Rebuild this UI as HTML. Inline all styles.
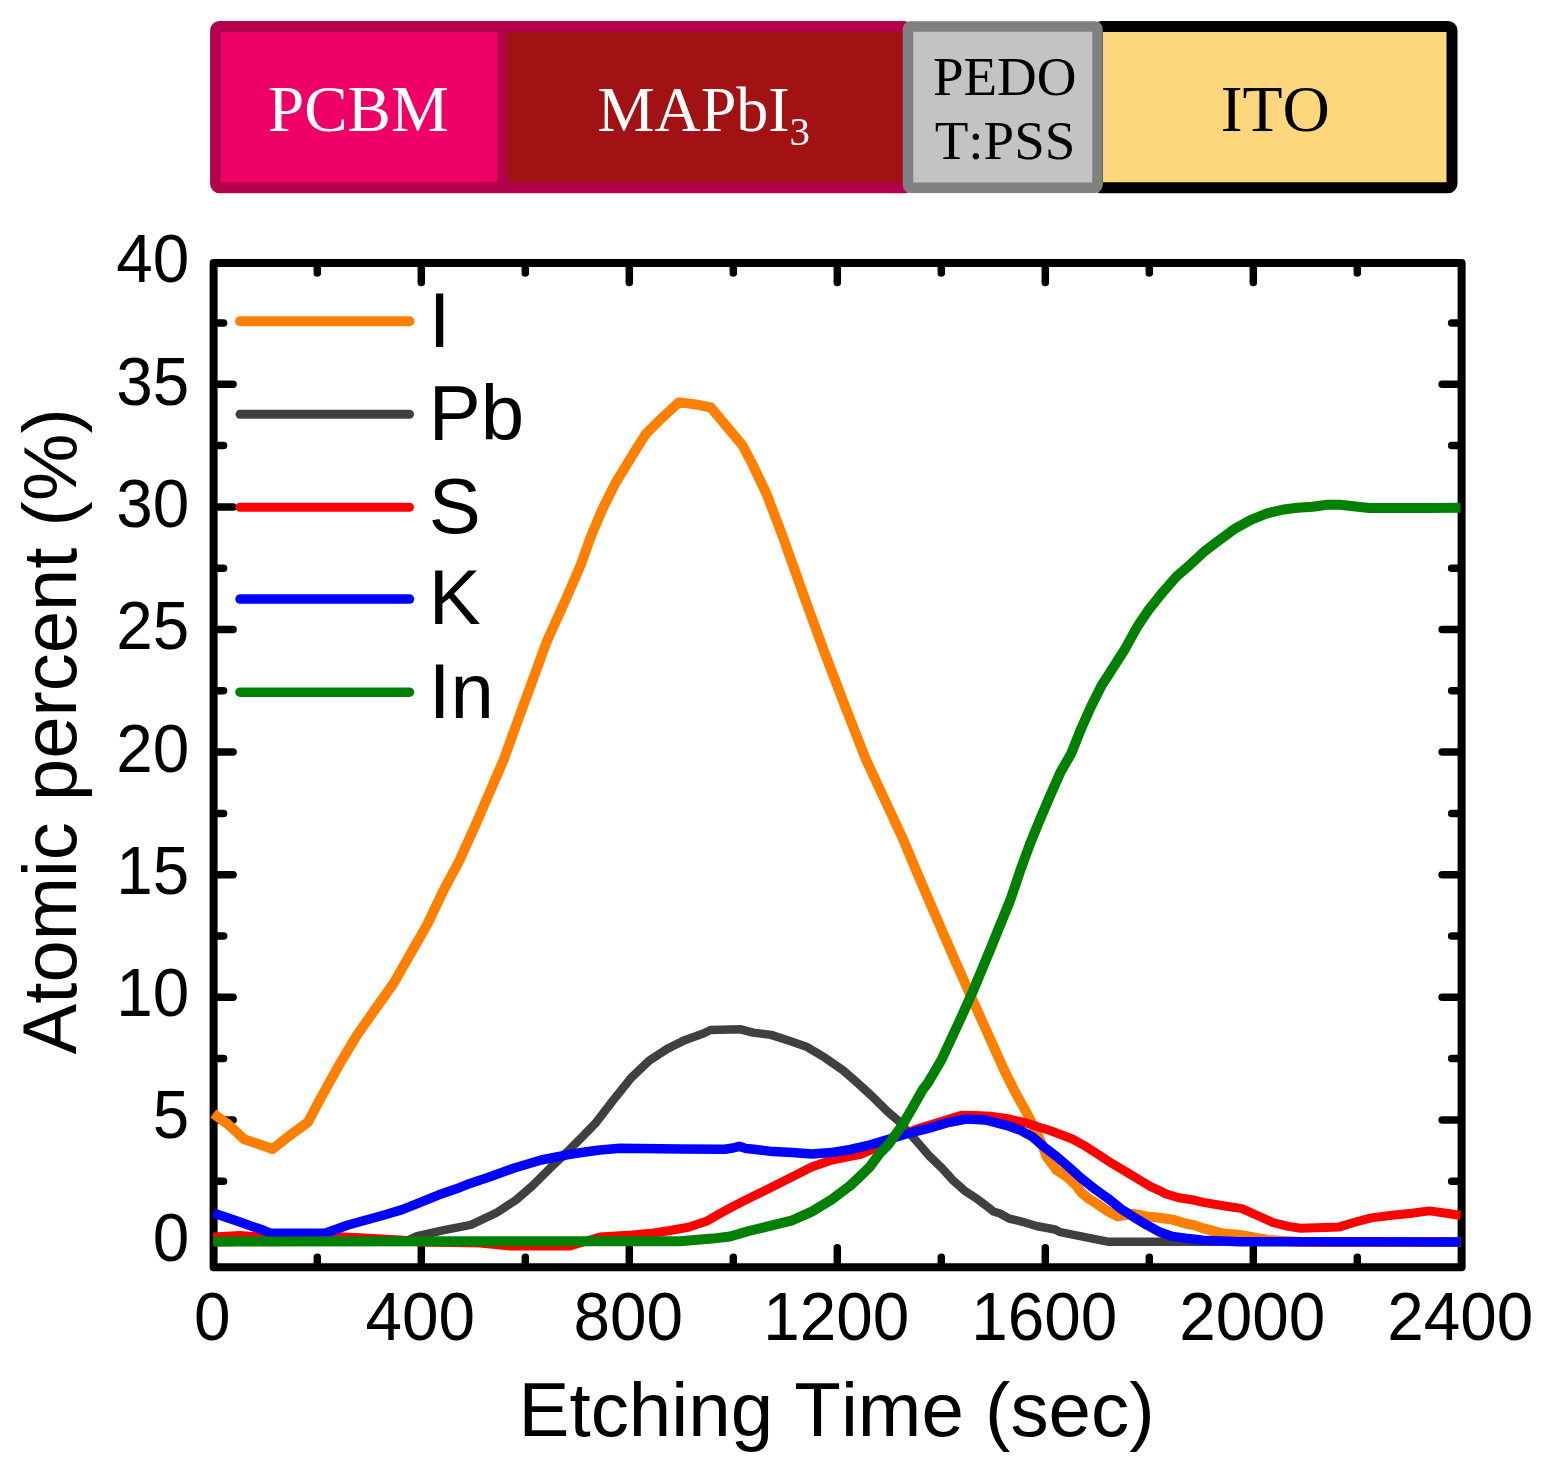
<!DOCTYPE html>
<html><head><meta charset="utf-8"><style>
html,body{margin:0;padding:0;background:#fff;}
svg{display:block;font-kerning:none;}
.sans{font-family:"Liberation Sans",sans-serif;}
.serif{font-family:"Liberation Serif",serif;}
</style></head><body>
<svg width="1551" height="1475" viewBox="0 0 1551 1475">
<rect width="1551" height="1475" fill="#fff"/>
<!-- layer bar -->
<g>
<rect x="215.6" y="26.5" width="692.4" height="161.3" rx="4" fill="#a21113" stroke="#b3004c" stroke-width="11"/>
<rect x="221" y="32" width="276.5" height="150.3" fill="#ee0066"/>
<rect x="497.2" y="21" width="10.1" height="172" fill="#b3004c"/>
<rect x="1097.5" y="26.5" width="354.5" height="161.3" rx="4" fill="#fed67c" stroke="#000" stroke-width="11"/>
<rect x="908" y="26.5" width="189.5" height="161.3" rx="2.5" fill="#c3c3c3" stroke="#808080" stroke-width="10.5"/>
</g>
<g class="serif" fill="#fff">
<text x="268.1" y="131.2" font-size="65">PCBM</text>
<text x="597.5" y="131.3" font-size="64">MAPbI<tspan font-size="41" dy="14">3</tspan></text>
</g>
<g class="serif" fill="#000">
<text x="932.9" y="94.5" font-size="55">PEDO</text>
<text x="934.7" y="159" font-size="55">T:PSS</text>
<text x="1220.8" y="131.2" font-size="65.5">ITO</text>
</g>
<!-- frame -->
<rect x="213.6" y="262.9" width="1248.0" height="1004.3" fill="none" stroke="#000" stroke-width="8" stroke-linejoin="round"/>
<path d="M217.6,1242.5h15.5 M1457.6,1242.5h-15.5 M217.6,1181.2h6 M1457.6,1181.2h-6 M217.6,1119.9h15.5 M1457.6,1119.9h-15.5 M217.6,1058.6h6 M1457.6,1058.6h-6 M217.6,997.3h15.5 M1457.6,997.3h-15.5 M217.6,936.0h6 M1457.6,936.0h-6 M217.6,874.7h15.5 M1457.6,874.7h-15.5 M217.6,813.4h6 M1457.6,813.4h-6 M217.6,752.1h15.5 M1457.6,752.1h-15.5 M217.6,690.8h6 M1457.6,690.8h-6 M217.6,629.5h15.5 M1457.6,629.5h-15.5 M217.6,568.2h6 M1457.6,568.2h-6 M217.6,506.9h15.5 M1457.6,506.9h-15.5 M217.6,445.6h6 M1457.6,445.6h-6 M217.6,384.3h15.5 M1457.6,384.3h-15.5 M217.6,323.0h6 M1457.6,323.0h-6 M317.3,1263.2v-6 M317.3,266.9v6 M421.3,1263.2v-15.5 M421.3,266.9v15.5 M525.3,1263.2v-6 M525.3,266.9v6 M629.3,1263.2v-15.5 M629.3,266.9v15.5 M733.3,1263.2v-6 M733.3,266.9v6 M837.3,1263.2v-15.5 M837.3,266.9v15.5 M941.3,1263.2v-6 M941.3,266.9v6 M1045.3,1263.2v-15.5 M1045.3,266.9v15.5 M1149.3,1263.2v-6 M1149.3,266.9v6 M1253.3,1263.2v-15.5 M1253.3,266.9v15.5 M1357.3,1263.2v-6 M1357.3,266.9v6" stroke="#000" stroke-width="7.5" stroke-linecap="round" fill="none"/>
<!-- curves -->
<g fill="none" stroke-linejoin="round" stroke-linecap="butt">
<polyline points="213.3,1113.5 228.4,1124.6 244.3,1139.3 259.0,1144.2 272.5,1149.0 289.6,1135.6 308.0,1122.1 320.3,1098.8 338.6,1065.8 357.0,1035.1 375.4,1009.0 393.8,983.0 427.5,924.0 443.7,890.0 458.9,861.7 468.7,840.0 476.3,823.2 491.9,787.0 503.6,760.0 517.1,722.6 532.0,682.0 546.9,641.3 565.2,600.7 580.5,565.5 590.9,536.5 602.2,509.7 615.6,482.8 627.5,463.3 637.3,447.4 645.8,434.0 660.5,419.3 678.8,402.4 698.1,404.8 710.9,407.5 742.0,444.7 751.8,463.0 766.4,493.5 778.0,524.0 784.0,540.0 803.5,594.9 823.5,649.8 844.5,704.7 866.0,759.7 889.5,810.0 903.7,840.7 920.7,881.3 938.3,922.0 955.9,962.6 968.0,989.7 1004.1,1070.0 1014.9,1091.7 1024.1,1108.1 1030.6,1120.3 1040.3,1140.7 1046.9,1157.0 1056.6,1170.0 1067.2,1177.0 1075.3,1184.5 1081.8,1193.0 1089.0,1199.0 1095.0,1202.5 1107.9,1211.3 1117.6,1216.4 1133.7,1213.8 1146.6,1216.4 1159.5,1217.7 1172.4,1219.6 1185.3,1223.5 1195.0,1225.4 1202.7,1228.1 1223.0,1233.6 1240.0,1235.0 1268.0,1240.0 1300.0,1242.0 1460.5,1242.0" stroke="#ff8000" stroke-width="10"/>
<polyline points="213.3,1241.5 405.0,1241.5 416.0,1236.5 442.6,1230.4 470.9,1224.8 497.0,1212.5 516.0,1200.0 532.2,1186.0 550.3,1167.9 568.3,1150.8 581.8,1137.2 595.0,1123.8 613.1,1100.3 631.1,1077.8 649.2,1060.6 667.2,1048.9 685.3,1039.9 703.3,1033.5 710.5,1030.0 740.8,1029.3 753.1,1032.6 771.1,1034.9 789.2,1040.8 807.2,1047.1 825.3,1057.9 843.3,1070.5 857.0,1082.5 871.3,1095.5 887.5,1111.6 898.0,1120.5 917.7,1142.5 930.0,1156.7 941.5,1167.6 953.0,1180.3 964.6,1190.7 976.1,1198.2 987.6,1206.8 993.4,1211.5 1000.0,1213.5 1009.2,1218.6 1022.5,1221.8 1036.3,1226.0 1055.1,1229.5 1060.3,1232.2 1087.5,1237.6 1107.8,1241.7 1460.5,1242.0" stroke="#404040" stroke-width="8.5"/>
<polyline points="213.3,1237.0 240.0,1235.5 260.0,1237.0 290.0,1234.5 320.0,1236.0 355.0,1237.5 400.0,1240.0 420.0,1242.0 480.0,1243.0 510.0,1246.0 570.0,1246.0 590.0,1240.0 600.0,1237.0 632.0,1235.0 654.0,1233.0 670.0,1230.5 688.3,1227.2 706.4,1221.3 720.0,1213.5 734.3,1205.8 753.7,1196.1 773.0,1186.4 792.4,1176.8 811.7,1167.1 831.0,1160.3 850.4,1156.4 860.0,1154.5 880.0,1146.0 893.5,1138.0 920.0,1128.0 946.0,1120.0 961.4,1115.3 975.0,1115.5 990.3,1116.2 1006.5,1118.5 1026.4,1123.0 1040.0,1127.5 1048.5,1130.0 1060.0,1134.2 1072.9,1139.3 1085.8,1146.4 1098.7,1154.8 1111.6,1163.2 1124.5,1170.9 1137.4,1178.7 1150.3,1186.4 1160.0,1190.8 1165.9,1193.9 1178.8,1197.7 1195.0,1200.3 1203.2,1202.4 1226.4,1206.2 1241.9,1208.6 1257.4,1215.5 1272.8,1222.5 1288.3,1226.4 1300.6,1228.3 1338.7,1227.1 1353.8,1222.5 1371.2,1217.9 1394.4,1215.0 1411.9,1213.2 1429.3,1210.9 1446.7,1213.2 1460.5,1215.5" stroke="#ff0000" stroke-width="9"/>
<polyline points="213.3,1213.0 237.1,1221.1 264.2,1230.6 270.9,1233.3 291.2,1233.3 325.1,1233.3 348.0,1225.0 366.1,1220.0 384.2,1215.0 402.2,1209.6 420.3,1202.3 438.3,1195.1 456.4,1188.8 470.0,1183.4 487.1,1177.8 514.2,1168.0 541.2,1160.0 568.3,1154.6 585.0,1152.0 600.0,1150.0 620.0,1148.2 680.0,1149.0 724.7,1149.2 733.0,1148.0 739.2,1146.3 746.0,1148.5 753.7,1149.2 773.0,1151.6 792.4,1152.6 811.7,1154.0 831.0,1152.6 850.4,1149.5 869.3,1145.1 888.7,1139.3 908.0,1133.5 927.4,1128.7 946.7,1122.9 966.1,1119.0 985.4,1120.0 1006.3,1125.3 1020.0,1130.1 1032.2,1136.6 1044.4,1147.2 1056.6,1156.5 1068.8,1167.0 1081.0,1178.0 1095.0,1189.2 1107.9,1198.3 1120.8,1208.7 1133.7,1217.1 1146.6,1224.8 1159.5,1231.9 1172.4,1236.4 1185.3,1238.3 1195.0,1239.3 1202.7,1240.3 1240.0,1241.7 1460.5,1242.0" stroke="#0000ff" stroke-width="9.5"/>
<polyline points="213.3,1241.5 680.0,1241.2 712.2,1238.6 730.0,1236.5 748.8,1231.0 773.0,1225.1 792.4,1220.3 811.7,1211.6 831.0,1200.0 850.4,1185.5 862.0,1174.5 869.3,1167.4 880.0,1153.0 888.7,1144.2 903.2,1123.8 914.2,1104.7 922.5,1090.0 927.8,1083.0 941.4,1060.0 960.0,1020.0 973.0,991.0 990.0,950.0 1010.3,900.0 1020.0,871.3 1029.6,844.9 1039.3,821.1 1049.0,798.2 1060.6,772.0 1071.2,753.6 1080.9,729.2 1090.7,707.2 1101.3,686.0 1125.2,648.7 1136.6,627.8 1148.0,610.7 1163.2,591.7 1176.5,576.5 1190.7,564.2 1205.0,550.9 1216.4,542.3 1235.5,528.3 1250.9,519.8 1266.4,513.6 1281.9,509.8 1297.4,507.8 1312.8,506.7 1326.8,504.7 1340.0,504.7 1369.2,508.0 1427.3,508.0 1460.5,507.7" stroke="#008000" stroke-width="10"/>
</g>
<!-- legend -->
<g class="sans" font-size="78" fill="#000">
<line x1="240" y1="321.3" x2="409.5" y2="321.3" stroke="#ff8000" stroke-width="10" stroke-linecap="round"/><text x="428.8" y="346.6">I</text><line x1="240" y1="414.2" x2="409.5" y2="414.2" stroke="#404040" stroke-width="9" stroke-linecap="round"/><text x="428.8" y="439.5">Pb</text><line x1="240" y1="507.3" x2="409.5" y2="507.3" stroke="#ff0000" stroke-width="9" stroke-linecap="round"/><text x="428.8" y="532.6">S</text><line x1="240" y1="599.1" x2="409.5" y2="599.1" stroke="#0000ff" stroke-width="9.5" stroke-linecap="round"/><text x="428.8" y="624.4">K</text><line x1="240" y1="692.2" x2="409.5" y2="692.2" stroke="#008000" stroke-width="9.5" stroke-linecap="round"/><text x="428.8" y="717.5">In</text>
</g>
<g class="sans" font-size="68" fill="#000">
<text transform="translate(189.3,1260.6) scale(0.965,1)" text-anchor="end">0</text><text transform="translate(189.3,1138.3) scale(0.965,1)" text-anchor="end">5</text><text transform="translate(189.3,1016.0) scale(0.965,1)" text-anchor="end">10</text><text transform="translate(189.3,893.7) scale(0.965,1)" text-anchor="end">15</text><text transform="translate(189.3,771.5) scale(0.965,1)" text-anchor="end">20</text><text transform="translate(189.3,649.2) scale(0.965,1)" text-anchor="end">25</text><text transform="translate(189.3,526.9) scale(0.965,1)" text-anchor="end">30</text><text transform="translate(189.3,404.6) scale(0.965,1)" text-anchor="end">35</text><text transform="translate(189.3,282.3) scale(0.965,1)" text-anchor="end">40</text>
<text transform="translate(212.3,1339.5) scale(0.965,1)" text-anchor="middle">0</text><text transform="translate(420.3,1339.5) scale(0.965,1)" text-anchor="middle">400</text><text transform="translate(628.3,1339.5) scale(0.965,1)" text-anchor="middle">800</text><text transform="translate(836.3,1339.5) scale(0.965,1)" text-anchor="middle">1200</text><text transform="translate(1044.3,1339.5) scale(0.965,1)" text-anchor="middle">1600</text><text transform="translate(1252.3,1339.5) scale(0.965,1)" text-anchor="middle">2000</text><text transform="translate(1460.3,1339.5) scale(0.965,1)" text-anchor="middle">2400</text>
</g>
<g class="sans" font-size="76" fill="#000">
<text x="518.6" y="1436" font-size="76.3">Etching Time (sec)</text>
<text transform="translate(75.7,1054.4) rotate(-90)" x="0" y="0">Atomic percent (%)</text>
</g>
</svg>
</body></html>
